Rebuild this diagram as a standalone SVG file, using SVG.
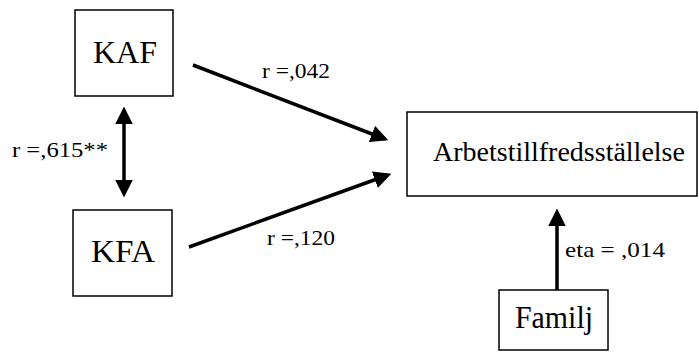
<svg xmlns="http://www.w3.org/2000/svg" width="699" height="352" viewBox="0 0 699 352">
<style>
.box{fill:#fff;stroke:#000;stroke-width:1.5}
.lbl{font-family:"Liberation Serif","Times New Roman",serif;fill:#000}
.big{font-size:31px}
.sm{font-size:22px}
.ln{stroke:#000;stroke-width:3.5;fill:none}
</style>
<defs>
<marker id="ah" markerWidth="5" markerHeight="5" refX="4" refY="2.5" orient="auto-start-reverse" markerUnits="strokeWidth">
<path d="M0,0 L5,2.5 L0,5 Z" fill="#000"/>
</marker>
</defs>
<rect width="699" height="352" fill="#fff"/>
<g id="KAF"><rect class="box" x="75" y="10" width="98" height="86"/><text class="lbl big" x="93" y="63" textLength="64" lengthAdjust="spacingAndGlyphs">KAF</text></g>
<g id="KFA"><rect class="box" x="73" y="210" width="99" height="86"/><text class="lbl big" x="91" y="262" textLength="64" lengthAdjust="spacingAndGlyphs">KFA</text></g>
<g id="Arbetstillfredsstallelse"><rect class="box" x="407" y="112" width="290" height="84"/><text class="lbl" font-size="28" x="433" y="161">Arbetstillfredsställelse</text></g>
<g id="Familj"><rect class="box" x="499" y="290" width="109" height="60"/><text class="lbl big" x="515" y="328" textLength="78" lengthAdjust="spacingAndGlyphs">Familj</text></g>
<g id="connectors">
<line class="ln" x1="193" y1="65" x2="385" y2="139" marker-end="url(#ah)"/>
<line class="ln" x1="189" y1="247" x2="388" y2="175" marker-end="url(#ah)"/>
<line class="ln" x1="124" y1="110" x2="124" y2="194" marker-start="url(#ah)" marker-end="url(#ah)"/>
<line class="ln" x1="557" y1="290" x2="557" y2="212" marker-end="url(#ah)"/>
<text class="lbl sm" x="262" y="78" textLength="68" lengthAdjust="spacingAndGlyphs">r =,042</text>
<text class="lbl sm" x="267" y="245" textLength="68" lengthAdjust="spacingAndGlyphs">r =,120</text>
<text class="lbl sm" x="12" y="157" textLength="96" lengthAdjust="spacingAndGlyphs">r =,615**</text>
<text class="lbl sm" x="565" y="257" textLength="100" lengthAdjust="spacingAndGlyphs">eta = ,014</text>
</g>
</svg>
